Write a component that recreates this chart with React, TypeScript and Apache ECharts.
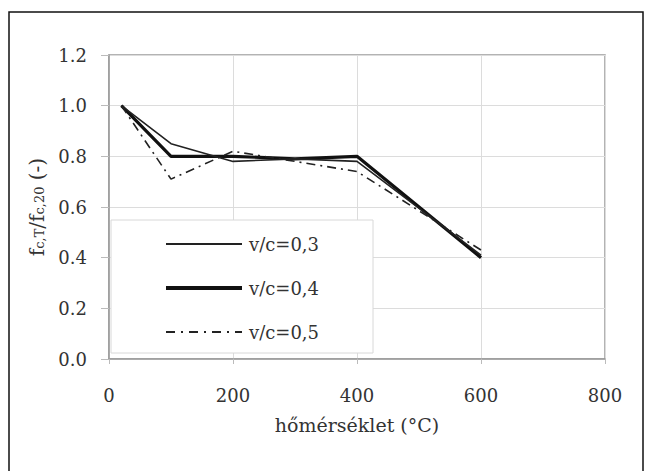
import React, { useEffect, useRef } from "react";
import * as echarts from "echarts";

const temperatures = [20, 100, 200, 300, 400, 600];
const vc03 = [1.0, 0.85, 0.78, 0.79, 0.78, 0.41];
const vc04 = [1.0, 0.8, 0.8, 0.79, 0.8, 0.4];
const vc05 = [1.0, 0.71, 0.82, 0.78, 0.74, 0.43];
const seriesNames = ["v/c=0,3", "v/c=0,4", "v/c=0,5"];
const xTitle = "hőmérséklet (°C)";

const FONT = "DejaVu Serif";
const TXT = "#333";

export default function App() {
  const ref = useRef<HTMLDivElement>(null);
  useEffect(() => {
    if (!ref.current) return;
    const chart = echarts.init(ref.current, null, { renderer: "svg" });
    const pts = (arr: number[]) => temperatures.map((t, i) => [t, arr[i]]);
    chart.setOption({
      animation: false,
      backgroundColor: "#fff",
      textStyle: { fontFamily: FONT, color: TXT },
      grid: {
        left: 109,
        top: 55,
        right: 44,
        bottom: 112,
        show: true,
        borderColor: "#9a9a9a",
        borderWidth: 1.5,
      },
      graphic: [
        {
          type: "rect",
          shape: { x: 9, y: 12, width: 634, height: 490 },
          style: { fill: "none", stroke: "#111", lineWidth: 1.5 },
          silent: true,
          z: -10,
        },
      ],
      xAxis: {
        type: "value",
        min: 0,
        max: 800,
        interval: 200,
        name: xTitle,
        nameLocation: "middle",
        nameGap: 56,
        nameTextStyle: { fontFamily: FONT, fontSize: 19, color: TXT },
        axisLine: { show: true, lineStyle: { color: "#9a9a9a", width: 1.5 } },
        axisTick: { show: true, inside: false, length: 5, lineStyle: { color: "#bbb" } },
        axisLabel: { margin: 27, fontFamily: FONT, fontSize: 18, color: TXT },
        splitLine: { show: true, lineStyle: { color: "#dcdcdc", width: 1 } },
      },
      yAxis: {
        type: "value",
        min: 0,
        max: 1.2,
        interval: 0.2,
        name: "{a|f}{s|c,T}{a|/f}{s|c,20}{a| (-)}",
        nameLocation: "middle",
        nameGap: 53,
        nameTextStyle: {
          fontFamily: FONT,
          color: TXT,
          rich: {
            a: { fontFamily: FONT, fontSize: 20, color: TXT },
            s: { fontFamily: FONT, fontSize: 13, color: TXT, padding: [0, 0, -5, 0] },
          },
        },
        axisLine: { show: true, lineStyle: { color: "#9a9a9a", width: 1.5 } },
        axisTick: { show: true, inside: false, length: 8, lineStyle: { color: "#bbb" } },
        axisLabel: {
          margin: 22,
          fontFamily: FONT,
          fontSize: 18,
          color: TXT,
          formatter: (v: number) => v.toFixed(1),
        },
        splitLine: { show: true, lineStyle: { color: "#dcdcdc", width: 1 } },
      },
      legend: {
        orient: "vertical",
        left: 111,
        top: 220,
        backgroundColor: "#fff",
        borderColor: "#d8d8d8",
        borderWidth: 1,
        padding: [15, 54, 12, 53],
        itemWidth: 76,
        itemHeight: 14,
        itemGap: 26,
        itemStyle: { opacity: 0, borderWidth: 0 },
        textStyle: { fontFamily: FONT, fontSize: 18, color: TXT, padding: [0, 0, 0, 2] },
        data: [
          { name: seriesNames[0], lineStyle: { width: 2, color: "#222" } },
          { name: seriesNames[1], lineStyle: { width: 4, color: "#111" } },
          { name: seriesNames[2], lineStyle: { width: 2, color: "#222", type: [9, 6, 2, 6] } },
        ],
      },
      series: [
        {
          name: seriesNames[0],
          type: "line",
          data: pts(vc03),
          symbol: "none",
          lineStyle: { color: "#222", width: 1.6 },
          itemStyle: { color: "#222" },
          z: 3,
        },
        {
          name: seriesNames[1],
          type: "line",
          data: pts(vc04),
          symbol: "none",
          lineStyle: { color: "#111", width: 3.2 },
          itemStyle: { color: "#111" },
          z: 2,
        },
        {
          name: seriesNames[2],
          type: "line",
          data: pts(vc05),
          symbol: "none",
          lineStyle: { color: "#222", width: 1.6, type: [9, 5, 2, 5] },
          itemStyle: { color: "#222" },
          z: 4,
        },
      ],
    });
    return () => chart.dispose();
  }, []);
  return (
    <div
      ref={ref}
      style={{ position: "fixed", left: 0, top: 0, width: 649, height: 471 }}
    />
  );
}
